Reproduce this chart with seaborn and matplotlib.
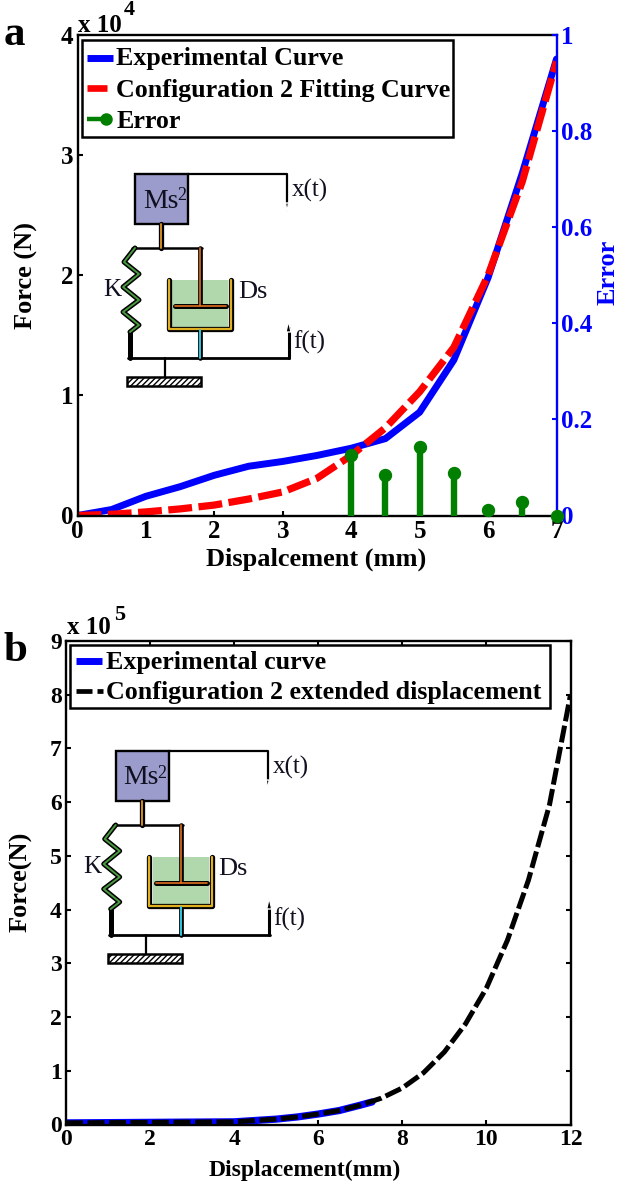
import numpy as np
import pandas as pd
import matplotlib
matplotlib.use("Agg")
import matplotlib.pyplot as plt
from matplotlib.patches import Rectangle, Polygon
from matplotlib.lines import Line2D
import seaborn as sns

W, H = 623, 1182
disp_a = [0, 0.5, 1, 1.5, 2, 2.5, 3, 3.5, 4, 4.5, 5, 5.5, 6, 6.5, 7]
exp_a = [0, 0.05, 0.16, 0.24, 0.335, 0.41, 0.45, 0.50, 0.56, 0.64, 0.86, 1.295, 1.98, 2.85, 3.8]
fit_a = [0, 0.01, 0.03, 0.055, 0.087, 0.137, 0.196, 0.31, 0.50, 0.73, 1.03, 1.40, 2.0, 2.78, 3.78]
err_x = [4, 4.5, 5, 5.5, 6, 6.5, 7]
err_y = [0.125, 0.085, 0.142, 0.089, 0.012, 0.028, 0.0]

disp_b_exp = [0, 1, 2, 3, 4, 5, 5.5, 6, 6.5, 7, 7.28]
exp_b = [0.03, 0.035, 0.04, 0.045, 0.05, 0.10, 0.14, 0.195, 0.26, 0.36, 0.42]
disp_b_fit = [0, 1, 2, 3, 4, 5, 5.5, 6, 6.5, 7, 7.5, 8, 8.5, 9, 9.5, 10, 10.5, 11, 11.5, 12]
fit_b = [0.03, 0.035, 0.04, 0.045, 0.05, 0.10, 0.14, 0.195, 0.26, 0.36, 0.49, 0.68, 0.96, 1.35, 1.87, 2.54, 3.43, 4.55, 5.95, 8.0]

sns.set_theme(style="ticks")
plt.rcParams["font.family"] = ["Liberation Serif", "DejaVu Serif"]
plt.rcParams["font.weight"] = "bold"
plt.rcParams["text.color"] = "black"
plt.rcParams["axes.labelcolor"] = "black"
plt.rcParams["xtick.color"] = "black"
plt.rcParams["ytick.color"] = "black"

fig = plt.figure(figsize=(W / 100, H / 100), dpi=100)
fig.patch.set_facecolor("white")

def axes_px(l, t, r, b):
    return fig.add_axes([l / W, 1 - b / H, (r - l) / W, (b - t) / H])

def style(ax, color="black"):
    for s in ax.spines.values():
        s.set_linewidth(1.7)
        s.set_color(color)

ax = axes_px(77.5, 35, 556.5, 515.5)
df = pd.DataFrame({"d": disp_a, "e": exp_a, "f": fit_a})
sns.lineplot(data=df, x="d", y="e", ax=ax, color="#0000ff", lw=5, errorbar=None)
sns.lineplot(data=df, x="d", y="f", ax=ax, color="#ff0000", lw=5.2, errorbar=None, linestyle=(0, (3.3, 0.9)))
ax.set_xlim(0, 7); ax.set_ylim(0, 4)
ax.set_xticks(range(8)); ax.set_yticks(range(5))
ax.tick_params(direction="in", length=3.5, width=1.5, labelsize=18, pad=3, colors="black")
ax.tick_params(axis="y", right=False)
ax.set_xlabel("Dispalcement (mm)", fontsize=19, fontweight="bold")
ax.set_ylabel("Force (N)", fontsize=19, fontweight="bold")
ax.xaxis.set_label_coords(0.499, -0.0665)
ax.yaxis.set_label_coords((38 - 77.5) / 479, 0.5)
style(ax)
ax.spines["right"].set_visible(False)

ax2 = ax.twinx()
ax2.set_ylim(0, 1); ax2.set_yticks([0, .2, .4, .6, .8, 1]); ax2.set_yticklabels(["0", "0.2", "0.4", "0.6", "0.8", "1"])
m, st, bl = ax2.stem(err_x, err_y, basefmt=" ")
plt.setp(st, color="#007f00", lw=4.6)
plt.setp(m, color="#007f00", ms=8.6, clip_on=False, zorder=5)
ax2.tick_params(axis="y", direction="in", length=3.5, width=1.5, labelsize=18, pad=3, colors="#0000ff")
ax2.set_ylabel("Error", fontsize=19, fontweight="bold", color="#0000ff", rotation=90)
ax2.yaxis.set_label_coords((597 - 77.5) / 479, 0.506)
style(ax2)
ax2.spines["right"].set_color("#0000ff")
ax2.spines["left"].set_visible(False); ax2.spines["top"].set_visible(False); ax2.spines["bottom"].set_visible(False)

bx = axes_px(66, 641, 570.5, 1124.5)
sns.lineplot(x=disp_b_exp, y=exp_b, ax=bx, color="#0000ff", lw=5.2, errorbar=None)
sns.lineplot(x=disp_b_fit, y=fit_b, ax=bx, color="black", lw=3.6, errorbar=None, linestyle=(0, (3.4, 0.9)))
bx.set_xlim(0, 12); bx.set_ylim(0, 9)
bx.set_xticks(range(0, 13, 2)); bx.set_yticks(range(10))
bx.tick_params(direction="in", length=3.5, width=1.5, labelsize=17, pad=3, top=True, right=True)
bx.set_xlabel("Displacement(mm)", fontsize=17, fontweight="bold")
bx.set_ylabel("Force(N)", fontsize=19, fontweight="bold")
bx.xaxis.set_label_coords((304.5 - 66) / 504.5, -0.0735)
bx.yaxis.set_label_coords((33 - 66) / 504.5, 0.5 + (1) / 483)
style(bx)

ov = fig.add_axes([0, 0, 1, 1], zorder=10)
ov.set_xlim(0, W); ov.set_ylim(H, 0); ov.axis("off"); ov.patch.set_alpha(0)

def legend_box(l, t, r, b):
    ov.add_patch(Rectangle((l, t), r - l, b - t, fc="white", ec="black", lw=1.8, zorder=3))

def T(x, y, s, **k):
    k.setdefault("family", ["Liberation Serif"])
    k.setdefault("fontweight", "bold")
    k.setdefault("va", "center")
    ov.text(x, y, s, zorder=8, **k)

legend_box(81.5, 40, 453, 137)
ov.add_line(Line2D([87, 113], [57.5, 57.5], color="#0000ff", lw=5, zorder=4, solid_capstyle="butt"))
ov.add_line(Line2D([87, 107], [88, 88], color="#ff0000", lw=4.8, zorder=4, solid_capstyle="butt"))
ov.add_line(Line2D([87, 104], [119, 119], color="#007f00", lw=3.2, zorder=4, solid_capstyle="butt"))
ov.add_line(Line2D([106], [119], color="#007f00", marker="o", ms=8, zorder=4))
LF = 18.7
T(116.5, 59, "Experimental Curve", fontsize=LF)
T(116.5, 90, "Configuration 2 Fitting Curve", fontsize=LF)
T(116.5, 122, "Error", fontsize=LF)
T(78, 26, "x 10", fontsize=18)
T(124, 10, "4", fontsize=16)
T(4, 45, "a", fontsize=31, va="baseline")

legend_box(70, 645, 550, 708)
ov.add_line(Line2D([76, 102], [661, 661], color="#0000ff", lw=5, zorder=4, solid_capstyle="butt"))
ov.add_line(Line2D([76, 92], [691, 691], color="black", lw=3.4, zorder=4, solid_capstyle="butt"))
ov.add_line(Line2D([97, 103], [691, 691], color="black", lw=3.4, zorder=4, solid_capstyle="butt"))
T(106, 662, "Experimental curve", fontsize=LF)
T(106, 693, "Configuration 2 extended displacement", fontsize=LF)
T(67, 628, "x 10", fontsize=18)
T(114, 615, "5", fontsize=16)
T(3, 661, "b", fontsize=31, va="baseline")

def schematic(dx, dy):
    X = lambda v: np.asarray(v, float) + dx
    Y = lambda v: np.asarray(v, float) + dy
    def L(xs, ys, c="black", lw=1.6, z=5, **k):
        ov.add_line(Line2D(X(xs), Y(ys), color=c, lw=lw, zorder=z, **k))
    ov.add_patch(Rectangle((135 + dx, 174 + dy), 53, 50, fc="#9c9ccc", ec="black", lw=1.7, zorder=5))
    L([188, 287, 287], [174, 174, 205])
    ov.add_patch(Polygon([(285.5 + dx, 203 + dy), (288.5 + dx, 203 + dy), (287 + dx, 212 + dy)], fc="black", zorder=5))
    L([161, 161], [224, 248], lw=3.8)
    L([161, 161], [224, 248], c="#d08a20", lw=1.4, z=6)
    L([132, 202], [248, 248], lw=1.8)
    L([200, 200], [248, 306], lw=3.4)
    L([200, 200], [248, 306], c="#e07020", lw=1.2, z=6)
    ov.add_patch(Rectangle((172 + dx, 280 + dy), 56, 47, fc="#b0d8ac", ec="none", zorder=4))
    L([168.5, 168.5, 231, 231], [280, 329, 329, 280], lw=3.8)
    L([168.5, 168.5, 231, 231], [280, 329, 329, 280], c="#e0b020", lw=1.6, z=6)
    L([175, 226], [306, 306], lw=3.6)
    L([175, 226], [306, 306], c="#e07020", lw=1.2, z=6)
    L([200, 200], [330, 358], lw=3.4)
    L([200, 200], [330, 358], c="#30c8e0", lw=1.4, z=6)
    sx = [135, 124, 139, 123, 139, 123, 139, 130]
    sy = [248, 262, 274, 287, 300, 312, 325, 332]
    L(sx, sy, lw=3.6)
    L(sx, sy, c="#4a9a40", lw=1.4, z=6)
    L([130, 130], [332, 358], lw=3.6)
    L([128, 289], [358, 358], lw=2)
    L([288.5, 288.5], [358, 328], lw=2.2)
    ov.add_patch(Polygon([(286 + dx, 332 + dy), (291 + dx, 332 + dy), (288.5 + dx, 321 + dy)], fc="black", zorder=5))
    L([165, 165], [358, 377], lw=1.6)
    ov.add_patch(Rectangle((127 + dx, 377 + dy), 74, 9, fc="white", ec="black", lw=1.8, hatch="//////", zorder=5))
    kw = dict(fontweight="normal", color="#101020")
    T(143 + dx, 201 + dy, "Ms", fontsize=20, **kw)
    T(177 + dx, 196 + dy, "2", fontsize=13, **kw)
    T(292 + dx, 190 + dy, "x(t)", fontsize=18, **kw)
    T(293 + dx, 342 + dy, "f(t)", fontsize=18, **kw)
    T(103 + dx, 290 + dy, "K", fontsize=18, **kw)
    T(238 + dx, 292 + dy, "Ds", fontsize=19, **kw)

schematic(0, 0)
schematic(-19.3, 577)

fig.savefig("out.png", dpi=100)
